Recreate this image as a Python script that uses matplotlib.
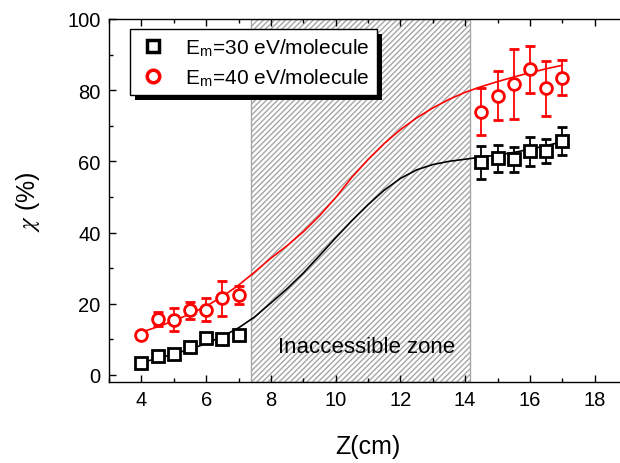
import matplotlib
matplotlib.use("Agg")
import matplotlib.pyplot as plt
from matplotlib.ticker import MultipleLocator
from matplotlib.lines import Line2D
from matplotlib.patches import Rectangle
from matplotlib.transforms import IdentityTransform

plt.rcParams['font.family'] = ['Liberation Sans', 'DejaVu Sans']
plt.rcParams['mathtext.fontset'] = 'stix'

# measured points
z_left = [4, 4.5, 5, 5.5, 6, 6.5, 7]
z_right = [14.5, 15, 15.5, 16, 16.5, 17]
chi30_left = [3.2, 5.3, 6.0, 7.8, 10.3, 10.1, 11.1]
chi30_left_err = [1.0, 1.0, 1.0, 1.0, 1.0, 1.0, 1.0]
chi30_right = [59.7, 60.9, 60.6, 62.8, 62.9, 65.7]
chi30_right_err = [4.6, 3.8, 3.5, 4.1, 3.4, 4.0]
chi40_left = [11.1, 15.6, 15.5, 18.1, 18.3, 21.5, 22.4]
chi40_left_err = [1.0, 2.0, 3.2, 2.3, 3.2, 5.0, 2.6]
chi40_right = [74.0, 78.4, 81.8, 85.9, 80.5, 83.5]
chi40_right_err = [6.6, 6.9, 9.8, 6.6, 7.7, 4.9]

# fit curves
z_fit = [4, 4.5, 5, 5.5, 6, 6.5, 7, 7.5, 8, 8.5, 9, 9.5, 10, 10.5, 11, 11.5,
         12, 12.5, 13, 13.5, 14, 14.5, 15, 15.5, 16, 16.5, 17]
fit30 = [3.5, 4.6, 5.9, 7.2, 8.8, 10.8, 13.2, 16.3, 20.2, 24.2, 28.6, 33.5,
         38.5, 43.3, 47.8, 51.9, 55.2, 57.6, 59.1, 60.0, 60.6, 61.2, 61.8,
         62.5, 63.4, 64.4, 65.5]
fit40 = [12.0, 13.5, 15.2, 17.1, 19.3, 22.0, 25.2, 28.9, 32.8, 36.3, 40.2,
         44.7, 49.8, 55.5, 60.5, 65.0, 68.9, 72.2, 75.0, 77.4, 79.4, 81.0,
         82.4, 83.7, 84.9, 86.0, 87.0]

zone = [7.4, 14.15]
labels = ['E$_\\mathregular{m}$=30 eV/molecule', 'E$_\\mathregular{m}$=40 eV/molecule']

fig = plt.figure(figsize=(6.2, 4.64), dpi=100)
ax = fig.add_axes([109/620, 1-383/464, (627-109)/620, (383-20)/464])

ax.axvspan(zone[0], zone[1], facecolor='white', edgecolor='#a6a6a6',
           hatch='//////', linewidth=1.0, zorder=0)
ax.text(10.95, 7.9, 'Inaccessible zone', ha='center', va='center',
        fontsize=16, zorder=1)

ax.plot(z_fit, fit30, color='black', lw=1.2, zorder=2)
ax.plot(z_fit, fit40, color='red', lw=1.2, zorder=2)

ekw = dict(ls='none', capsize=3.5, elinewidth=1.3, capthick=1.3, ms=8.5, mew=2,
           mfc='white', zorder=3)
ax.errorbar(z_left + z_right, chi30_left + chi30_right,
            yerr=chi30_left_err + chi30_right_err, marker='s',
            color='black', mec='black', **ekw)
ax.errorbar(z_left + z_right, chi40_left + chi40_right,
            yerr=chi40_left_err + chi40_right_err, marker='o',
            color='red', mec='red', **ekw)

ax.set_xlim(3, 19)
ax.set_ylim(-2, 100)
ax.xaxis.set_major_locator(MultipleLocator(2))
ax.xaxis.set_minor_locator(MultipleLocator(1))
ax.yaxis.set_major_locator(MultipleLocator(20))
ax.yaxis.set_minor_locator(MultipleLocator(10))
ax.tick_params(which='both', direction='in', top=True, right=True,
               labelsize=14.5, width=1)
ax.tick_params(which='major', length=5, pad=6)
ax.tick_params(which='minor', length=3)
for s in ax.spines.values():
    s.set_linewidth(1)

ax.set_xlabel('Z(cm)', fontsize=18, labelpad=18)
ax.set_ylabel('$\\chi$ (%)', fontsize=18, labelpad=18)

hd = [Line2D([], [], ls='none', marker='s', ms=9, mew=2.5, mec='black', mfc='white'),
      Line2D([], [], ls='none', marker='o', ms=9, mew=2.5, mec='red', mfc='white')]
leg = ax.legend(hd, labels, loc='upper left', bbox_to_anchor=(0.04, 0.973),
                borderaxespad=0, fontsize=15, frameon=True, fancybox=False,
                edgecolor='black', framealpha=1, handlelength=1.5,
                handletextpad=0.8, labelspacing=0.4, borderpad=0.35)
leg.get_frame().set_linewidth(1)
leg.set_zorder(6)

fig.canvas.draw()
bb = leg.get_window_extent(fig.canvas.get_renderer())
shadow = Rectangle((bb.x0 + 5, bb.y0 - 5), bb.width, bb.height,
                   transform=IdentityTransform(), facecolor='black',
                   edgecolor='none', zorder=5.9, clip_on=False)
ax.add_artist(shadow)

fig.savefig('out.png', dpi=100)
